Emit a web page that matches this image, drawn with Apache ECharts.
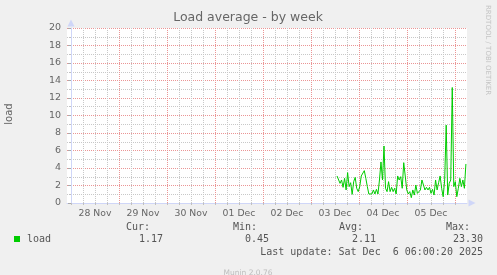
<!DOCTYPE html>
<html>
<head>
<meta charset="utf-8">
<script src="https://cdn.jsdelivr.net/npm/echarts@6/dist/echarts.min.js"></script>
<style>
html,body{margin:0;padding:0;background:#f0f0f0;}
#c{width:497px;height:275px;}
</style>
</head>
<body>
<div id="c"></div>
<script>
// ---- data ----
const titleText = 'Load average - by week';
const yAxisName = 'load';
const dayLabels = ['28 Nov', '29 Nov', '30 Nov', '01 Dec', '02 Dec', '03 Dec', '04 Dec', '05 Dec'];
// hours relative to 28 Nov 00:00
const axisStartHour = -2;
const axisEndHour = 198;
const loadStartHour = 133;
const loadStepHours = 0.7583;
const loadValues = [
  3.09, 3.01, 2.25, 2.63, 1.79, 2.82, 1.49, 3.47, 1.87, 2.32,
  0.99, 2.44, 2.93, 1.68, 1.30, 1.87, 3.09, 3.09, 3.70, 2.82,
  1.87, 1.03, 0.95, 1.03, 1.49, 1.03, 1.56, 1.03, 2.63, 4.69,
  2.63, 6.51, 1.68, 1.30, 2.44, 1.30, 1.79, 1.30, 1.68, 1.03,
  3.09, 2.63, 3.01, 1.68, 4.61, 3.09, 1.49, 1.03, 1.30, 0.61,
  1.49, 0.91, 2.06, 1.10, 0.99, 1.49, 2.63, 2.44, 1.49, 1.79,
  1.49, 1.79, 1.10, 1.56, 0.91, 2.63, 1.49, 2.32, 3.09, 1.68,
  0.72, 2.63, 8.90, 0.91, 2.25, 2.63, 13.20, 1.87, 2.44, 0.72,
  1.68, 2.82, 1.87, 2.63, 1.68, 4.46
];
const legendSeriesName = 'load';
const legendHeaders = ['Cur:', 'Min:', 'Avg:', 'Max:'];
const legendStats = ['1.17', '0.45', '2.11', '23.30'];
const lastUpdate = 'Last update: Sat Dec  6 06:00:20 2025';
const footer = 'Munin 2.0.76';
const sideText = 'RRDTOOL / TOBI OETIKER';

// ---- build ----
const slotHours = [];
for (let h = axisStartHour; h <= axisEndHour; h += 0.5) slotHours.push(h);
const hourOf = i => slotHours[i];
const isMidnight = i => { const h = hourOf(i); return h >= 0 && h % 24 === 0; };
const isSixHour = i => { const h = hourOf(i); return h >= 0 && h % 6 === 0 && h < axisEndHour; };
const isNoon = i => { const h = hourOf(i); return h >= 12 && (h - 12) % 24 === 0; };

const RED = '#eb9595';
const GRAY = '#c8c8c8';
const AXIS = '#cfd6f8';
const LABEL = '#666';
const LINE = '#00cc00';

const chart = echarts.init(document.getElementById('c'), null, {renderer: 'canvas'});
const gridL = 67, gridT = 28, gridW = 400, gridH = 175;

const mono = '"DejaVu Sans Mono", monospace';
const sans = '"DejaVu Sans", sans-serif';
const legendHeaderRight = [150, 257, 363, 470];
const legendValueRight = [163, 269, 376, 483];
const TXT = '#555';

const graphics = [
  {type: 'text', x: 248, y: 18, style: {text: titleText, font: '12.5px ' + sans, fill: LABEL, align: 'center', verticalAlign: 'middle'}},
  {type: 'text', x: 9, y: 114, rotation: Math.PI / 2, style: {text: yAxisName, font: '10px ' + sans, fill: LABEL, align: 'center', verticalAlign: 'middle'}},
  {type: 'text', x: 488, y: 5, rotation: -Math.PI / 2, style: {text: sideText, font: '7px ' + sans, fill: '#c4c4c4', align: 'left', verticalAlign: 'middle'}},
  {type: 'rect', shape: {x: 14, y: 236, width: 6, height: 6}, style: {fill: LINE}},
  {type: 'text', x: 27, y: 239, style: {text: legendSeriesName, font: '10px ' + mono, fill: TXT, align: 'left', verticalAlign: 'middle'}},
  {type: 'text', x: 483, y: 252, style: {text: lastUpdate, font: '10px ' + mono, fill: TXT, align: 'right', verticalAlign: 'middle'}},
  {type: 'text', x: 248, y: 273, style: {text: footer, font: '7.5px ' + sans, fill: '#bdbdbd', align: 'center', verticalAlign: 'middle'}}
];
legendHeaders.forEach((t, k) => graphics.push({type: 'text', x: legendHeaderRight[k], y: 227, style: {text: t, font: '10px ' + mono, fill: TXT, align: 'right', verticalAlign: 'middle'}}));
legendStats.forEach((t, k) => graphics.push({type: 'text', x: legendValueRight[k], y: 239, style: {text: t, font: '10px ' + mono, fill: TXT, align: 'right', verticalAlign: 'middle'}}));

chart.setOption({
  animation: false,
  backgroundColor: '#f0f0f0',
  grid: {left: gridL, top: gridT, width: gridW, height: gridH, show: true, backgroundColor: '#ffffff', borderWidth: 0},
  xAxis: [
    {
      type: 'category', data: slotHours, boundaryGap: false, position: 'bottom',
      axisLine: {show: false}, axisTick: {show: false}, axisLabel: {show: false},
      splitLine: {show: true, interval: (i) => isSixHour(i) && !isMidnight(i), lineStyle: {color: GRAY, type: [1, 1], width: 1}}
    },
    {
      type: 'category', data: slotHours, boundaryGap: false, position: 'bottom',
      axisLine: {show: true, lineStyle: {color: AXIS, width: 1}, symbol: ['none', 'triangle'], symbolSize: [7, 7], symbolOffset: [0, 5]},
      axisTick: {show: true, interval: (i) => isSixHour(i), length: 2, lineStyle: {color: '#c0c0c0'}},
      axisLabel: {show: true, interval: (i) => isNoon(i), formatter: (v, i) => dayLabels[(hourOf(i) - 12) / 24] || '', color: LABEL, fontFamily: sans, fontSize: 9.3, margin: 6},
      splitLine: {show: true, interval: (i) => isMidnight(i), lineStyle: {color: RED, type: [1, 1], width: 1}}
    },
    {
      type: 'value', min: axisStartHour, max: axisEndHour, show: false
    }
  ],
  yAxis: {
    type: 'value', min: 0, max: 20, interval: 2,
    axisLine: {show: true, lineStyle: {color: AXIS, width: 1}, symbol: ['none', 'triangle'], symbolSize: [7, 7], symbolOffset: [0, 5]},
    axisTick: {show: true, length: 3, lineStyle: {color: '#aaa'}},
    minorTick: {show: true, splitNumber: 2, length: 2, lineStyle: {color: '#c0c0c0'}},
    axisLabel: {color: LABEL, fontFamily: sans, fontSize: 9.5, margin: 6},
    splitLine: {show: true, lineStyle: {color: RED, type: [1, 1], width: 1}},
    minorSplitLine: {show: true, lineStyle: {color: GRAY, type: [1, 1], width: 1}}
  },
  series: [{
    type: 'line', xAxisIndex: 2, yAxisIndex: 0,
    data: loadValues.map((v, i) => [loadStartHour + i * loadStepHours, v]),
    showSymbol: false, symbol: 'none',
    lineStyle: {color: LINE, width: 1},
    z: 10
  }],
  graphic: graphics
});
</script>
</body>
</html>
